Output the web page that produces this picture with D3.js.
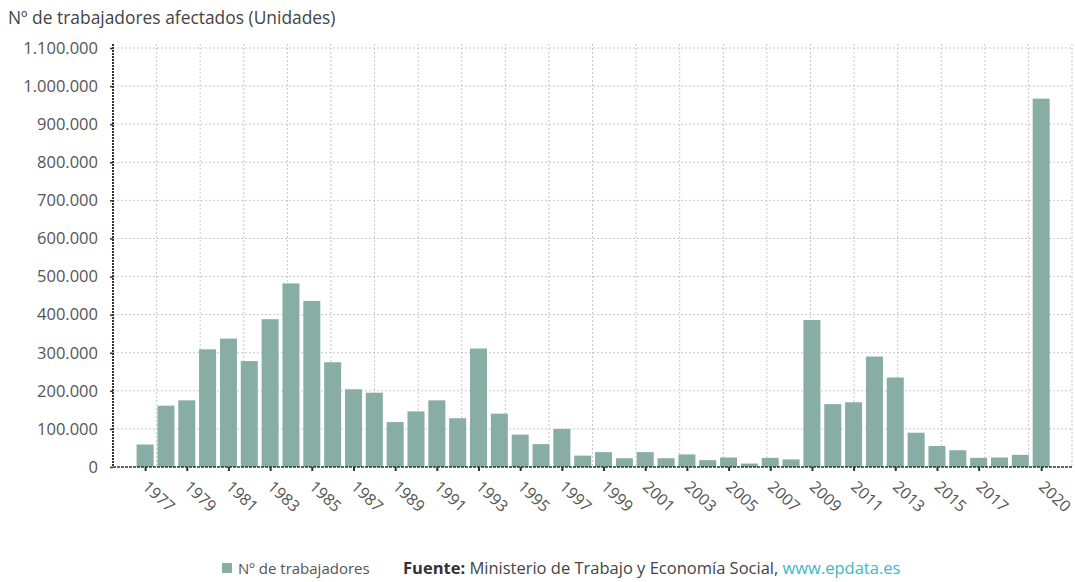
<!DOCTYPE html>
<html>
<head>
<meta charset="utf-8">
<script src="https://cdn.jsdelivr.net/npm/d3@7"></script>
<style>
  html, body { margin: 0; padding: 0; background: #fff; }
  svg { display: block; font-family: "Open Sans", "Noto Sans", sans-serif; }
</style>
</head>
<body>
<svg id="chart" width="1075" height="582"></svg>
<script>
// Trabajadores afectados por expedientes de regulación de empleo, por año
const years = d3.range(1977, 2021);
const workers = [
  59000, 161000, 175000, 309000, 337000, 278000, 388000, 482000, 436000, 275000,
  204000, 195000, 118000, 146000, 175000, 128000, 311000, 140000, 85000, 60000,
  100000, 30000, 39000, 23000, 39000, 23000, 33000, 18000, 25000, 9000,
  24000, 20000, 386000, 165000, 170000, 290000, 235000, 90000, 55000, 44000,
  24000, 25000, 32000, 967000
];
const xTickYears = [1977, 1979, 1981, 1983, 1985, 1987, 1989, 1991, 1993, 1995, 1997,
  1999, 2001, 2003, 2005, 2007, 2009, 2011, 2013, 2015, 2017, 2020];
const yTicks = d3.range(0, 1100001, 100000);

const titleText = "Nº de trabajadores afectados (Unidades)";
const legendText = "Nº de trabajadores";
const sourceLabel = "Fuente:";
const sourceText = " Ministerio de Trabajo y Economía Social, ";
const sourceLink = "www.epdata.es";

const barColor = "#88ada5";
const textColor = "#555";

const svg = d3.select("#chart");
const plot = { left: 113, right: 1072, top: 48, bottom: 467 };

const x = d3.scaleLinear().domain([1975.46, 2021.48]).range([plot.left, plot.right]);
const y = d3.scaleLinear().domain([0, 1100000]).range([plot.bottom, plot.top]);
const fmt = v => d3.format(",")(v).replace(/,/g, ".");

// grid
const grid = svg.append("g");
grid.selectAll("line.h").data(yTicks.slice(1)).join("line")
  .attr("x1", plot.left).attr("x2", plot.right)
  .attr("y1", d => y(d)).attr("y2", d => y(d))
  .attr("stroke", "#c8c8c8").attr("stroke-dasharray", "2,2");
const vGrid = d3.range(1, 23).map(i => plot.left + i * (plot.right - plot.left) / 22);
grid.selectAll("line.v").data(vGrid).join("line")
  .attr("x1", d => d).attr("x2", d => d)
  .attr("y1", plot.top - 4).attr("y2", plot.bottom)
  .attr("stroke", "#c8c8c8").attr("stroke-dasharray", "2,2");

// bars
const barW = 17;
svg.append("g").selectAll("rect").data(years).join("rect")
  .attr("x", (d) => x(d) - barW / 2)
  .attr("width", barW)
  .attr("y", (d, i) => y(workers[i]))
  .attr("height", (d, i) => y(0) - y(workers[i]))
  .attr("fill", barColor);

// y axis
const yAxis = svg.append("g").attr("transform", `translate(${plot.left},0)`)
  .call(d3.axisLeft(y).tickValues(yTicks).tickFormat(fmt).tickSize(3).tickPadding(12));
yAxis.select(".domain").remove();
yAxis.selectAll(".tick line").attr("stroke", "#333").attr("stroke-width", 1.5);
yAxis.selectAll(".tick text").attr("fill", textColor).style("font-size", "16.5px")
  .style("font-family", '"Open Sans", sans-serif');
svg.append("line").attr("x1", plot.left).attr("x2", plot.left).attr("y1", plot.top - 4).attr("y2", plot.bottom)
  .attr("stroke", "#333").attr("stroke-width", 2).attr("stroke-dasharray", "2,1");

// x axis
const xAxis = svg.append("g").attr("transform", `translate(0,${plot.bottom})`)
  .call(d3.axisBottom(x).tickValues(xTickYears).tickFormat(d3.format("d")).tickSize(4).tickPadding(0));
xAxis.select(".domain").remove();
xAxis.selectAll(".tick line").attr("stroke", "#333").attr("stroke-width", 2);
xAxis.selectAll(".tick text")
  .attr("fill", textColor).style("font-size", "16px")
  .style("font-family", '"Open Sans", sans-serif')
  .attr("text-anchor", "start").attr("dy", null).attr("y", null)
  .attr("transform", "translate(-4,21) rotate(43)");
svg.append("line").attr("x1", plot.left).attr("x2", plot.right).attr("y1", plot.bottom).attr("y2", plot.bottom)
  .attr("stroke", "#333").attr("stroke-width", 1.5).attr("stroke-dasharray", "3,1");

// title
svg.append("text").attr("x", 8).attr("y", 24)
  .attr("fill", "#444").style("font-size", "17.4px").text(titleText);

// legend and source
const leg = svg.append("g").attr("transform", "translate(222,574)");
leg.append("rect").attr("x", 0).attr("y", -11).attr("width", 10).attr("height", 10).attr("fill", barColor);
leg.append("text").attr("x", 16).attr("y", 0).attr("fill", textColor).style("font-size", "15px").text(legendText);
const src = leg.append("text").attr("x", 181).attr("y", 0).attr("fill", "#444").style("font-size", "16.5px");
src.append("tspan").attr("font-weight", "bold").attr("fill", "#333").text(sourceLabel);
src.append("tspan").text(sourceText);
src.append("tspan").attr("fill", "#3bb9c6").text(sourceLink);
</script>
</body>
</html>
